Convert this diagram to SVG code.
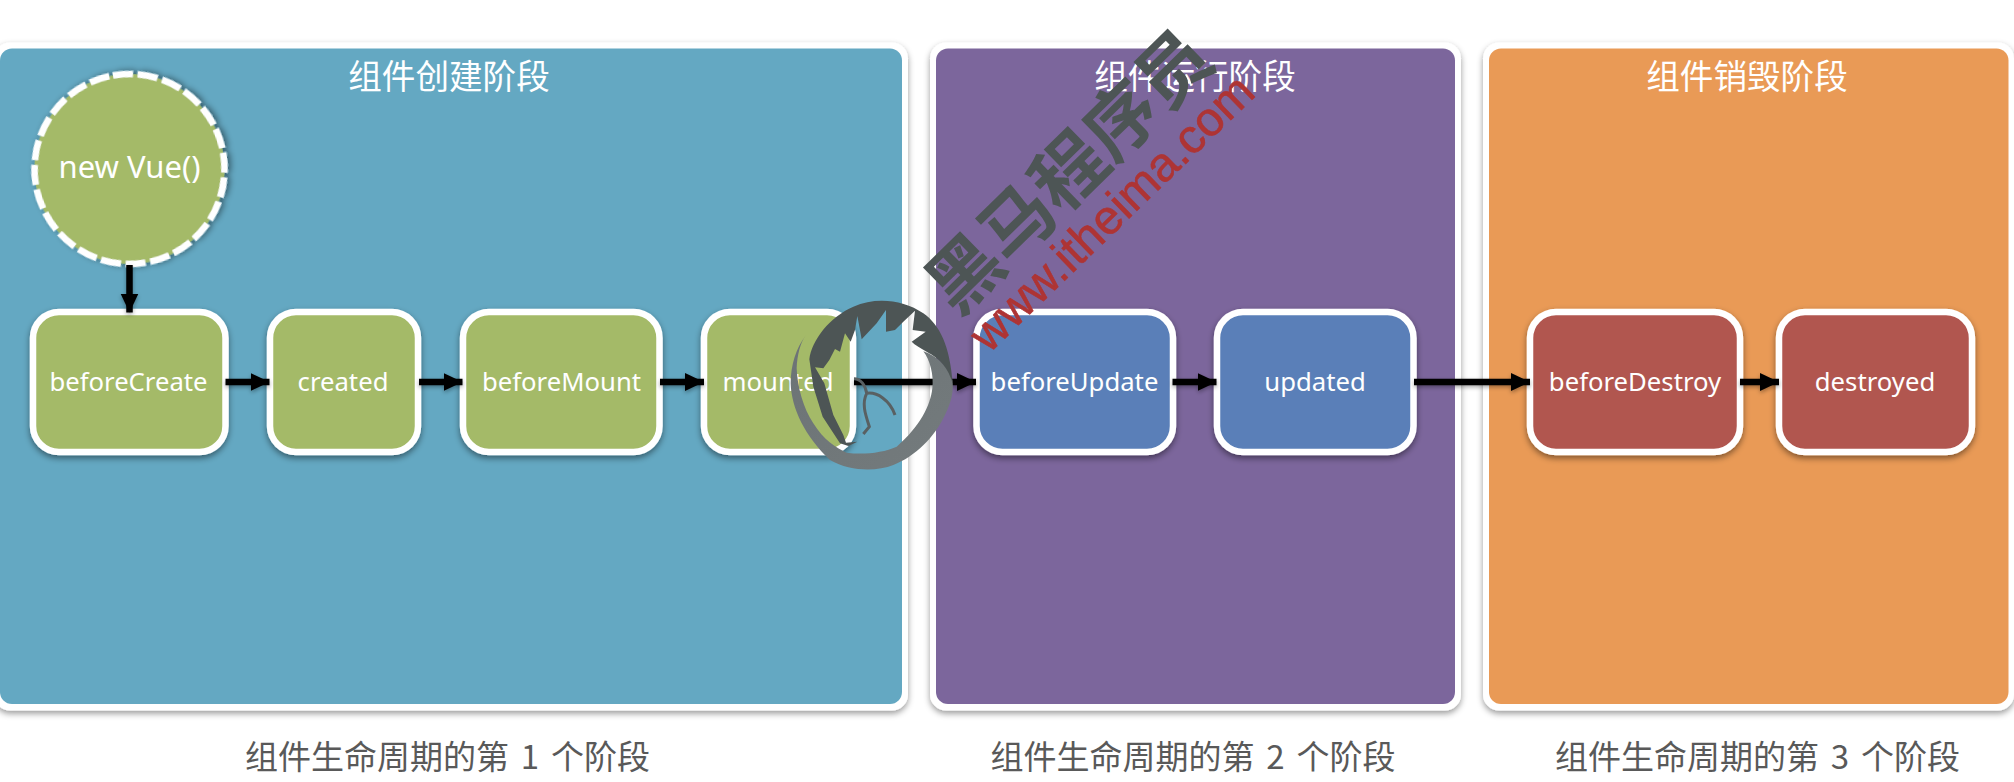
<svg xmlns="http://www.w3.org/2000/svg" width="2014" height="782" viewBox="0 0 2014 782">
<style>
.halo{fill:#fff;filter:url(#ps)}
.title{font:33.600px "Noto Sans CJK SC","Noto Sans",sans-serif;fill:#fff;text-anchor:middle}
.cap{font:33px "Noto Sans CJK SC","Noto Sans",sans-serif;fill:#595959;text-anchor:middle;word-spacing:4.5px}
.nt{font:25.700px "Noto Sans","Noto Sans CJK SC",sans-serif;fill:#fff;text-anchor:middle}
.nb{stroke:#fff;stroke-width:6.500;filter:url(#ns)}
.g{fill:#A4BA68}.b{fill:#5A7FB8}.r{fill:#B15750}
.c line{stroke:#000;stroke-width:6.500;marker-end:url(#ah);filter:url(#as)}
</style>
<defs>
<filter id="ps" x="-5%" y="-5%" width="110%" height="110%"><feDropShadow dx="0" dy="3" stdDeviation="3" flood-color="#000" flood-opacity=".4"/></filter>
<filter id="ns" x="-15%" y="-15%" width="130%" height="130%"><feDropShadow dx="0" dy="3" stdDeviation="3" flood-color="#000" flood-opacity=".45"/></filter>
<filter id="as" filterUnits="userSpaceOnUse" x="0" y="0" width="2014" height="782"><feDropShadow dx="0" dy="2" stdDeviation="2" flood-color="#000" flood-opacity=".35"/></filter>
<marker id="ah" markerUnits="userSpaceOnUse" markerWidth="20" markerHeight="20" refX="19" refY="9.500" orient="auto"><path d="M0 0.500L19 9.500L0 18.500Z" fill="#000"/></marker>
<linearGradient id="rg" x1="0" y1="0" x2="1" y2="1"><stop offset="0" stop-color="#6c7375"/><stop offset="1" stop-color="#747b7d"/></linearGradient>
</defs>
<rect width="2014" height="782" fill="#fff"/>

<g id="panel-create">
<rect class="halo" x="-6" y="42.500" width="914" height="668" rx="16"/>
<rect x="0" y="48.500" width="902" height="655.500" rx="12" fill="#64A8C2"/>
<text class="title" x="449" y="89">组件创建阶段</text>
</g>
<g id="panel-run">
<rect class="halo" x="930" y="42.500" width="531" height="668" rx="16"/>
<rect x="936" y="48.500" width="519" height="655.500" rx="12" fill="#7C669C"/>
<text class="title" x="1195" y="89">组件运行阶段</text>
</g>
<g id="panel-destroy">
<rect class="halo" x="1483" y="42.500" width="531" height="668" rx="16"/>
<rect x="1489" y="48.500" width="519.500" height="655.500" rx="12" fill="#E99A56"/>
<text class="title" x="1747" y="89">组件销毁阶段</text>
</g>

<g id="node-newvue">
<circle class="g" cx="129.500" cy="169" r="95" stroke="#fff" stroke-width="6.500" stroke-dasharray="20 4.870" transform="rotate(-100 129.500 169)" filter="url(#ns)"/>
<text class="nt" x="129.500" y="178" style="font-size:31px">new Vue()</text>
</g>
<g id="node-beforeCreate"><rect class="nb g" x="33" y="312" width="192.500" height="140" rx="26"/><text class="nt" x="128.500" y="391">beforeCreate</text></g>
<g id="node-created"><rect class="nb g" x="270" y="312" width="148" height="140" rx="26"/><text class="nt" x="343" y="391">created</text></g>
<g id="node-beforeMount"><rect class="nb g" x="463" y="312" width="196.500" height="140" rx="26"/><text class="nt" x="561.500" y="391">beforeMount</text></g>
<g id="node-mounted"><rect class="nb g" x="704" y="312" width="149" height="140" rx="26"/><text class="nt" x="778" y="391">mounted</text></g>
<g id="node-beforeUpdate"><rect class="nb b" x="976.500" y="312" width="196.500" height="140" rx="26"/><text class="nt" x="1074.500" y="391">beforeUpdate</text></g>
<g id="node-updated"><rect class="nb b" x="1217" y="312" width="196.500" height="140" rx="26"/><text class="nt" x="1315" y="391">updated</text></g>
<g id="node-beforeDestroy"><rect class="nb r" x="1530" y="312" width="210" height="140" rx="26"/><text class="nt" x="1635" y="391">beforeDestroy</text></g>
<g id="node-destroyed"><rect class="nb r" x="1779" y="312" width="193" height="140" rx="26"/><text class="nt" x="1875" y="391">destroyed</text></g>

<g id="connectors" class="c">
<line x1="129.500" y1="265" x2="129.500" y2="312.500"/>
<line x1="225.500" y1="382" x2="269.500" y2="382"/>
<line x1="419" y1="382" x2="462.500" y2="382"/>
<line x1="660" y1="382" x2="704" y2="382"/>
<line x1="854" y1="382" x2="976" y2="382"/>
<line x1="1172.500" y1="382" x2="1216.500" y2="382"/>
<line x1="1414" y1="382" x2="1530" y2="382"/>
<line x1="1740" y1="382" x2="1779" y2="382"/>
</g>

<g id="captions">
<text class="cap" x="447.500" y="769">组件生命周期的第 1 个阶段</text>
<text class="cap" x="1193" y="769">组件生命周期的第 2 个阶段</text>
<text class="cap" x="1757.500" y="769">组件生命周期的第 3 个阶段</text>
</g>

<g id="watermark">
<text x="1069" y="171" dy=".36em" transform="rotate(-44.400 1069 171)" text-anchor="middle" style="font:bold 73px 'Noto Sans CJK SC',sans-serif;fill:#4D5555">黑马程序员</text>
<text x="1111" y="212" dy=".36em" transform="rotate(-44 1111 212)" text-anchor="middle" style="font:48px 'Liberation Sans',sans-serif;fill:#AE3434;stroke:#AE3434;stroke-width:.6">www.itheima.com</text>
<g transform="translate(780 280) scale(.33333)">
<path fill="url(#rg)" d="M78 165C48 205 32 255 32 310C34 385 75 470 150 540C210 575 290 575 340 555C405 530 465 470 495 405C515 365 522 330 517 300C505 260 470 228 430 214C450 240 462 285 457 325C452 375 420 440 350 500C310 518 250 525 200 518C170 505 130 480 100 430C70 385 52 320 50 265C52 225 60 190 78 165Z"/>
<path fill="#4D5555" d="M88 238C95 180 150 110 220 80C290 50 370 60 430 100C480 135 510 200 518 310C505 265 480 235 440 215C420 203 405 195 395 185L437 155L398 150L405 92L370 125L345 150L318 155L318 90L290 130L245 178L232 108L225 150L212 185L195 160L180 215L165 207L148 240L130 265L105 262L133 310L150 370L160 405L190 465L198 488L232 485L205 498L180 490L128 410L100 320Z"/>
<path fill="none" stroke="#596062" stroke-width="9" d="M222 296C242 296 256 315 260 340C290 335 330 360 345 405M260 340C245 370 255 400 268 440L250 462"/>
</g>
</g>
</svg>
